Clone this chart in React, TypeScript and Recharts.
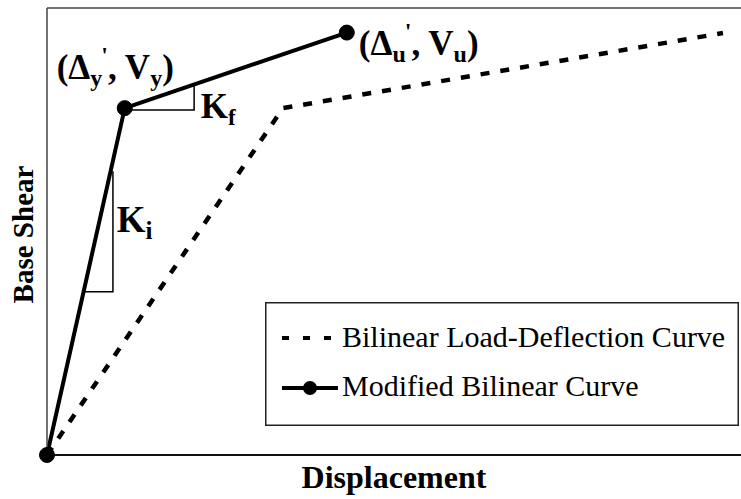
import React from 'react';
import { LineChart, Line, XAxis, YAxis, ReferenceDot, ReferenceLine, Legend, Label } from 'recharts';

const modifiedX = [0, 11.2, 43.2];
const modifiedY = [0, 77.6, 94.5];
const bilinearX = [0, 34.0, 97.4];
const bilinearY = [0, 77.6, 94.4];
const kfTriangleX = [11.2, 21.2, 21.2];
const kfTriangleY = [77.2, 77.2, 82.9];
const kiTriangleX = [5.3, 9.5, 9.5];
const kiTriangleY = [36.5, 36.5, 63.5];
const seriesNames = ['Bilinear Load-Deflection Curve', 'Modified Bilinear Curve'];
const axisTitles = ['Displacement', 'Base Shear'];

const zip = (xs: number[], ys: number[]) => xs.map((x, i) => ({ x, y: ys[i] }));
const modifiedData = zip(modifiedX, modifiedY);
const bilinearData = zip(bilinearX, bilinearY);
const kfData = zip(kfTriangleX, kfTriangleY);
const kiData = zip(kiTriangleX, kiTriangleY);

const FONT = '"Liberation Serif", "Times New Roman", serif';

const center = (vb: any) => ({ cx: vb.x + vb.width / 2, cy: vb.y + vb.height / 2 });

const PointLabel = ({ cx, cy, dx, dy, sub }: any) => (
  <text x={cx + dx} y={cy + dy} fontFamily={FONT} fontWeight="bold" fontSize={35} fill="#000">
    <tspan>(Δ</tspan>
    <tspan fontSize={24} dy={7}>{sub}</tspan>
    <tspan fontSize={24} dy={-23} dx={-1}>'</tspan>
    <tspan fontSize={35} dy={16}>, V</tspan>
    <tspan fontSize={24} dy={7}>{sub}</tspan>
    <tspan fontSize={35} dy={-7}>)</tspan>
  </text>
);

const YieldLabel = (p: any) => {
  const { cx, cy } = center(p.viewBox);
  return <PointLabel cx={cx} cy={cy} dx={-68} dy={-29} sub="y" />;
};

const UltLabel = (p: any) => {
  const { cx, cy } = center(p.viewBox);
  return <PointLabel cx={cx} cy={cy} dx={12} dy={22} sub="u" />;
};

const KfLabel = (p: any) => {
  const { cx, cy } = center(p.viewBox);
  return (
    <text x={cx + 76} y={cy + 10} fontFamily={FONT} fontWeight="bold" fontSize={35} fill="#000">
      <tspan>K</tspan>
      <tspan fontSize={23} dy={7}>f</tspan>
    </text>
  );
};

const KiLabel = (p: any) => {
  const { cx, cy } = center(p.viewBox);
  return (
    <text x={cx - 8} y={cy + 124} fontFamily={FONT} fontWeight="bold" fontSize={37} fill="#000">
      <tspan>K</tspan>
      <tspan fontSize={25} dy={7}>i</tspan>
    </text>
  );
};

const renderLegend = () => (
  <svg width={474} height={124} style={{ display: 'block' }}>
    <rect x={0.75} y={0.75} width={472.5} height={122.5} fill="#fff" stroke="#222" strokeWidth={1.5} />
    <line x1={17} y1={36} x2={73} y2={36} stroke="#000" strokeWidth={4} strokeDasharray="7 14" />
    <text x={77} y={45} fontFamily={FONT} fontSize={30} fill="#000">{seriesNames[0]}</text>
    <line x1={17} y1={86} x2={73} y2={86} stroke="#000" strokeWidth={4} />
    <circle cx={45} cy={86} r={7} fill="#000" />
    <text x={77} y={94} fontFamily={FONT} fontSize={30} fill="#000">{seriesNames[1]}</text>
  </svg>
);

export default function App() {
  return (
    <div style={{ position: 'absolute', left: 0, top: 0, width: 741, height: 499, background: '#fff' }}>
      <LineChart width={741} height={499} margin={{ top: 8, right: 0, left: 46, bottom: 43 }}>
        <XAxis
          type="number"
          dataKey="x"
          domain={[0, 100]}
          height={1}
          tick={false}
          tickLine={false}
          axisLine={{ stroke: '#111', strokeWidth: 2 }}
        >
          <Label
            content={(p: any) => (
              <text
                x={p.viewBox.x + p.viewBox.width / 2}
                y={488}
                textAnchor="middle"
                fontFamily={FONT}
                fontWeight="bold"
                fontSize={32}
                fill="#000"
              >
                {axisTitles[0]}
              </text>
            )}
          />
        </XAxis>
        <YAxis
          type="number"
          dataKey="y"
          domain={[0, 100]}
          width={1}
          tick={false}
          tickLine={false}
          axisLine={{ stroke: '#444', strokeWidth: 1.5 }}
        >
          <Label
            content={(p: any) => (
              <text
                transform={`translate(33, ${p.viewBox.y + p.viewBox.height / 2 + 3}) rotate(-90)`}
                textAnchor="middle"
                fontFamily={FONT}
                fontWeight="bold"
                fontSize={29}
                fill="#000"
              >
                {axisTitles[1]}
              </text>
            )}
          />
        </YAxis>
        <ReferenceLine y={100} stroke="#444" strokeWidth={1.5} />
        <Line
          data={kfData}
          dataKey="y"
          type="linear"
          stroke="#000"
          strokeWidth={1.5}
          dot={false}
          legendType="none"
          isAnimationActive={false}
        />
        <Line
          data={kiData}
          dataKey="y"
          type="linear"
          stroke="#000"
          strokeWidth={1.5}
          dot={false}
          legendType="none"
          isAnimationActive={false}
        />
        <Line
          name={seriesNames[0]}
          data={bilinearData}
          dataKey="y"
          type="linear"
          stroke="#000"
          strokeWidth={4.5}
          strokeDasharray="9 11"
          dot={false}
          isAnimationActive={false}
        />
        <Line
          name={seriesNames[1]}
          data={modifiedData}
          dataKey="y"
          type="linear"
          stroke="#000"
          strokeWidth={4}
          strokeLinejoin="round"
          dot={{ r: 7.5, fill: '#000', stroke: '#000', strokeWidth: 1 }}
          isAnimationActive={false}
        />
        <ReferenceDot x={modifiedX[1]} y={modifiedY[1]} r={1} fill="none" stroke="none" label={YieldLabel} />
        <ReferenceDot x={modifiedX[2]} y={modifiedY[2]} r={1} fill="none" stroke="none" label={UltLabel} />
        <ReferenceDot x={modifiedX[1]} y={modifiedY[1]} r={1} fill="none" stroke="none" label={KfLabel} />
        <ReferenceDot x={modifiedX[1]} y={modifiedY[1]} r={1} fill="none" stroke="none" label={KiLabel} />
        <Legend
          layout="vertical"
          align="center"
          verticalAlign="middle"
          content={renderLegend}
          wrapperStyle={{ left: 265, top: 302, width: 474, height: 124 }}
        />
      </LineChart>
    </div>
  );
}
